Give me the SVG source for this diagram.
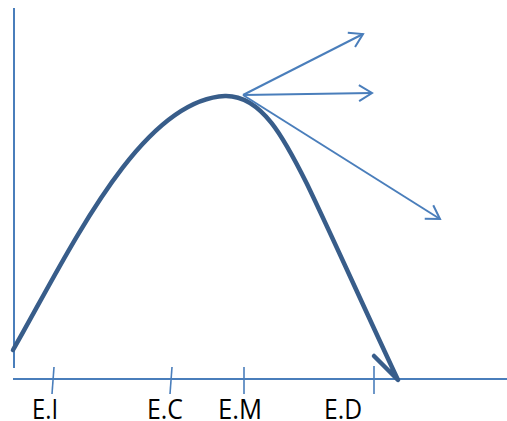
<svg xmlns="http://www.w3.org/2000/svg" width="507" height="421" viewBox="0 0 507 421">
<style>
.ax{stroke:#4a7ebb;stroke-width:2;fill:none}
.tk{stroke:#4a7ebb;stroke-width:1.6;fill:none}
.cv{stroke:#385d8a;stroke-width:4.5;fill:none;stroke-linecap:round;stroke-linejoin:round}
.ar{stroke:#4a7ebb;stroke-width:2;fill:none}
.lb{font-family:"Open Sans","Liberation Sans",Arial,sans-serif;font-size:28px;fill:#000}
</style>
<defs>
<marker id="head" markerUnits="userSpaceOnUse" markerWidth="30" markerHeight="30" viewBox="-15 -15 30 30" refX="0" refY="0" orient="auto">
<path d="M-13,-8 L0,0 L-13,8" fill="none" stroke="#4a7ebb" stroke-width="2"/>
</marker>
</defs>
<g id="axes">
<line class="ax" x1="14" y1="8" x2="14" y2="368"/>
<line class="ax" x1="13" y1="379" x2="507" y2="379"/>
</g>
<g id="ticks">
<line class="tk" x1="54" y1="367" x2="52" y2="394"/>
<line class="tk" x1="172" y1="367" x2="170" y2="394"/>
<line class="tk" x1="244" y1="367" x2="244" y2="394"/>
<line class="tk" x1="374" y1="366" x2="374" y2="394"/>
</g>
<g id="curve">
<path class="cv" d="M13,350 C70,250 140,100 225,96 C262,95 285,140 307,184 C332,236 366,312 398,380 L374,356"/>
</g>
<g id="connectors">
<line class="ar" x1="243" y1="95" x2="363" y2="34" marker-end="url(#head)"/>
<line class="ar" x1="243" y1="95" x2="372" y2="93" marker-end="url(#head)"/>
<line class="ar" x1="243" y1="95" x2="440" y2="219" marker-end="url(#head)"/>
</g>
<g id="labels">
<text class="lb" x="32" y="419" textLength="26" lengthAdjust="spacingAndGlyphs">E.I</text>
<text class="lb" x="147" y="419" textLength="36" lengthAdjust="spacingAndGlyphs">E.C</text>
<text class="lb" x="218" y="419" textLength="44" lengthAdjust="spacingAndGlyphs">E.M</text>
<text class="lb" x="324" y="419" textLength="38" lengthAdjust="spacingAndGlyphs">E.D</text>
</g>
</svg>
